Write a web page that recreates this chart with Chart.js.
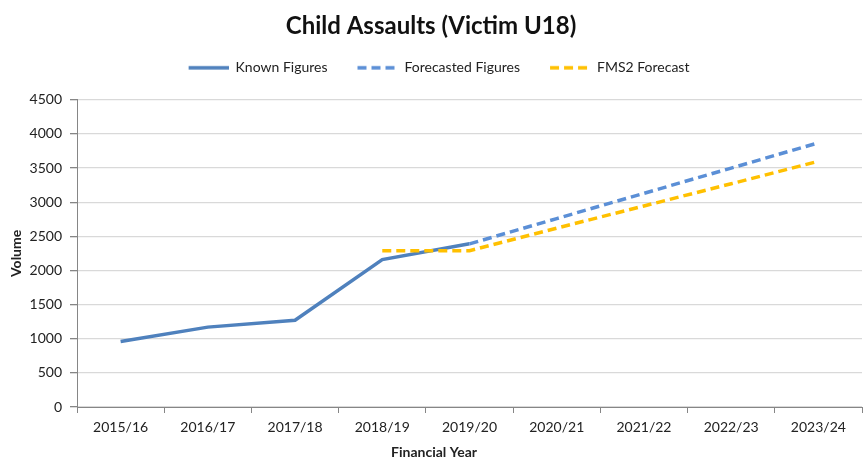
<!DOCTYPE html>
<html>
<head>
<meta charset="utf-8">
<script src="https://cdn.jsdelivr.net/npm/chart.js@4/dist/chart.umd.min.js"></script>
<style>
  html, body { margin: 0; padding: 0; background: #fff; }
  #wrap { width: 863px; height: 459px; position: relative; }
</style>
</head>
<body>
<div id="wrap"><canvas id="chart"></canvas></div>
<script>
const years = ['2015/16', '2016/17', '2017/18', '2018/19', '2019/20', '2020/21', '2021/22', '2022/23', '2023/24'];
const knownFigures = [960, 1170, 1270, 2160, 2390, null, null, null, null];
const forecastedFigures = [null, null, null, null, 2390, 2760, 3130, 3500, 3870];
const fms2Forecast = [null, null, null, 2290, 2290, 2620, 2945, 3270, 3600];
const volumeTicks = [0, 500, 1000, 1500, 2000, 2500, 3000, 3500, 4000, 4500];

const FONT = 'Lato, "Liberation Sans", sans-serif';
const DASH = [9, 5];

// small line sample for the legend; left part is blank so items get extra spacing
function legendSample(color, dash) {
  const c = document.createElement('canvas');
  c.width = 56;
  c.height = 6;
  const g = c.getContext('2d');
  g.strokeStyle = color;
  g.lineWidth = 3.5;
  g.setLineDash(dash);
  g.beginPath();
  g.moveTo(16, 3);
  g.lineTo(56, 3);
  g.stroke();
  return c;
}

// x axis title sits centred on the whole chart, not on the plot area
const xTitlePlugin = {
  id: 'xTitle',
  afterDraw(chart) {
    const c = chart.ctx;
    c.save();
    c.font = 'bold 14px ' + FONT;
    c.fillStyle = '#222';
    c.textAlign = 'center';
    c.textBaseline = 'middle';
    c.fillText('Financial Year', 434, 452);
    c.restore();
  }
};

// leave room between legend and plot
const legendGap = {
  id: 'legendGap',
  beforeLayout(chart) {
    const legend = chart.legend;
    if (!legend || legend._gapPatched) return;
    const fit = legend.fit;
    legend.fit = function () {
      fit.call(this);
      this.height = 53;
    };
    legend._gapPatched = true;
  }
};

new Chart(document.getElementById('chart').getContext('2d'), {
  type: 'line',
  data: {
    labels: years,
    datasets: [
      {
        label: 'Known Figures',
        data: knownFigures,
        borderColor: '#4F81BD',
        backgroundColor: '#4F81BD',
        borderWidth: 3.5,
        pointRadius: 0,
        pointStyle: legendSample('#4F81BD', []),
        tension: 0,
        order: 2
      },
      {
        label: 'Forecasted Figures',
        data: forecastedFigures,
        borderColor: '#5B8FD6',
        backgroundColor: '#5B8FD6',
        borderWidth: 3.5,
        borderDash: DASH,
        pointRadius: 0,
        pointStyle: legendSample('#5B8FD6', DASH),
        tension: 0,
        order: 1
      },
      {
        label: 'FMS2 Forecast',
        data: fms2Forecast,
        borderColor: '#FFC000',
        backgroundColor: '#FFC000',
        borderWidth: 3.5,
        borderDash: DASH,
        pointRadius: 0,
        pointStyle: legendSample('#FFC000', DASH),
        tension: 0,
        order: 0
      }
    ]
  },
  options: {
    responsive: true,
    maintainAspectRatio: false,
    animation: false,
    layout: { padding: { left: 0, right: 1, top: 0, bottom: 0 } },
    scales: {
      x: {
        type: 'category',
        offset: true,
        grid: {
          display: true,
          offset: true,
          drawOnChartArea: false,
          drawTicks: true,
          tickLength: 6,
          tickColor: '#868686'
        },
        border: { color: '#868686', width: 1 },
        ticks: {
          color: '#222',
          padding: 6,
          maxRotation: 0,
          font: { family: FONT, size: 14 }
        },
        afterFit(scale) { scale.height = 52; }
      },
      y: {
        min: 0,
        max: 4500,
        afterBuildTicks(scale) { scale.ticks = volumeTicks.map(v => ({ value: v })); },
        grid: {
          color: '#D9D9D9',
          tickColor: '#868686',
          tickLength: 7,
          lineWidth: 1.3
        },
        border: { color: '#868686', width: 1 },
        ticks: {
          color: '#222',
          padding: 8,
          font: { family: FONT, size: 14 },
          callback: value => String(value)
        },
        title: {
          display: true,
          text: 'Volume',
          color: '#222',
          font: { family: FONT, size: 14, weight: 'bold' },
          padding: { top: 8, bottom: 0 }
        },
        afterFit(scale) { scale.width = 77; }
      }
    },
    plugins: {
      title: {
        display: true,
        text: 'Child Assaults (Victim U18)',
        color: '#111',
        font: { family: FONT, size: 24, weight: 'bold' },
        padding: { top: 12, bottom: 6 }
      },
      legend: {
        display: true,
        labels: {
          usePointStyle: true,
          pointStyleWidth: 56,
          boxHeight: 14,
          padding: 14,
          color: '#222',
          font: { family: FONT, size: 14 },
          sort: (a, b) => a.datasetIndex - b.datasetIndex
        }
      },
      tooltip: { enabled: false }
    }
  },
  plugins: [xTitlePlugin, legendGap]
});
</script>
</body>
</html>
